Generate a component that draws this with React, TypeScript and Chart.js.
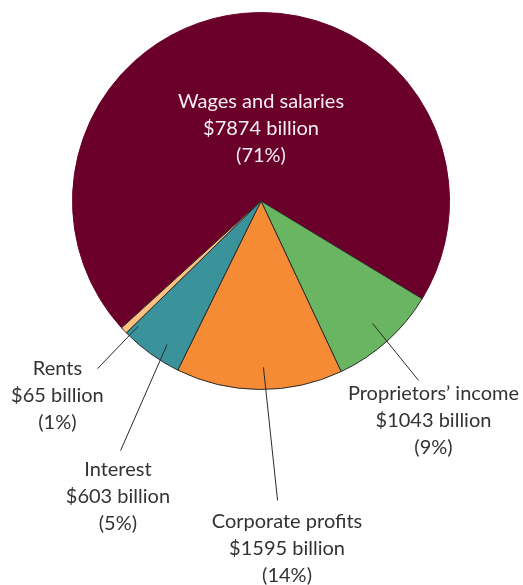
import { useEffect, useRef } from "react";
import { Chart, registerables } from "chart.js";

Chart.register(...registerables);

const categories = [
  "Wages and salaries",
  "Proprietors’ income",
  "Corporate profits",
  "Interest",
  "Rents",
];
const values = [7874, 1043, 1595, 603, 65];
const percentLabels = [71, 9, 14, 5, 1];
const colors = ["#6a0029", "#6ab562", "#f58b34", "#3a939b", "#fec17f"];

// label placement relative to pie centre, in units of the pie radius
const labelLayout = [
  { text: [0, -0.382], color: "#f4eef0", line: null },
  { text: [0.915, 1.164], color: "#333333", line: [[0.592, 0.65], [0.836, 0.952]] },
  { text: [0.138, 1.843], color: "#333333", line: [[0.013, 0.883], [0.088, 1.589]] },
  { text: [-0.759, 1.568], color: "#333333", line: [[-0.498, 0.761], [-0.745, 1.324]] },
  { text: [-1.08, 1.032], color: "#333333", line: [[-0.651, 0.664], [-0.867, 0.889]] },
];

const FONT = "20px Lato, 'Open Sans', sans-serif";
const LINE_H = 27;

const labelPlugin = {
  id: "pieLabels",
  afterDatasetsDraw(chart: any) {
    const meta = chart.getDatasetMeta(0);
    const first = meta.data[0];
    if (!first) return;
    const { x, y, outerRadius } = first.getProps(["x", "y", "outerRadius"], true);
    const R = outerRadius;
    const ctx = chart.ctx;
    ctx.save();
    labelLayout.forEach((lay, i) => {
      if (lay.line) {
        ctx.beginPath();
        ctx.strokeStyle = "#2a2a2a";
        ctx.lineWidth = 1;
        ctx.moveTo(x + lay.line[0][0] * R, y + lay.line[0][1] * R);
        ctx.lineTo(x + lay.line[1][0] * R, y + lay.line[1][1] * R);
        ctx.stroke();
      }
      const lines = [categories[i], `$${values[i]} billion`, `(${percentLabels[i]}%)`];
      ctx.font = FONT;
      ctx.fillStyle = lay.color;
      ctx.textAlign = "center";
      ctx.textBaseline = "middle";
      const cx = x + lay.text[0] * R;
      const cy = y + lay.text[1] * R;
      lines.forEach((t, k) => {
        ctx.fillText(t, cx, cy + (k - 1) * LINE_H);
      });
    });
    ctx.restore();
  },
};

export default function App() {
  const ref = useRef<HTMLCanvasElement>(null);
  useEffect(() => {
    document.body.style.margin = "0";
    const canvas = ref.current!;
    const chart = new Chart(canvas, {
      type: "pie",
      data: {
        labels: categories,
        datasets: [
          {
            data: values,
            backgroundColor: colors,
            borderColor: ["#6a0029", "#2a2a2a", "#2a2a2a", "#2a2a2a", "#2a2a2a"],
            borderWidth: 1,
            hoverOffset: 0,
            offset: 0,
          },
        ],
      },
      options: {
        responsive: false,
        animation: false,
        devicePixelRatio: 1,
        rotation: -132.3,
        layout: { padding: { left: 72, right: 73, top: 12, bottom: 195 } },
        plugins: {
          legend: { display: false },
          tooltip: { enabled: false },
        },
        events: [],
      },
      plugins: [labelPlugin],
    });
    return () => chart.destroy();
  }, []);
  return (
    <div style={{ width: 523, height: 585, overflow: "hidden" }}>
      <canvas ref={ref} width={523} height={585} style={{ display: "block", width: 523, height: 585 }} />
    </div>
  );
}
